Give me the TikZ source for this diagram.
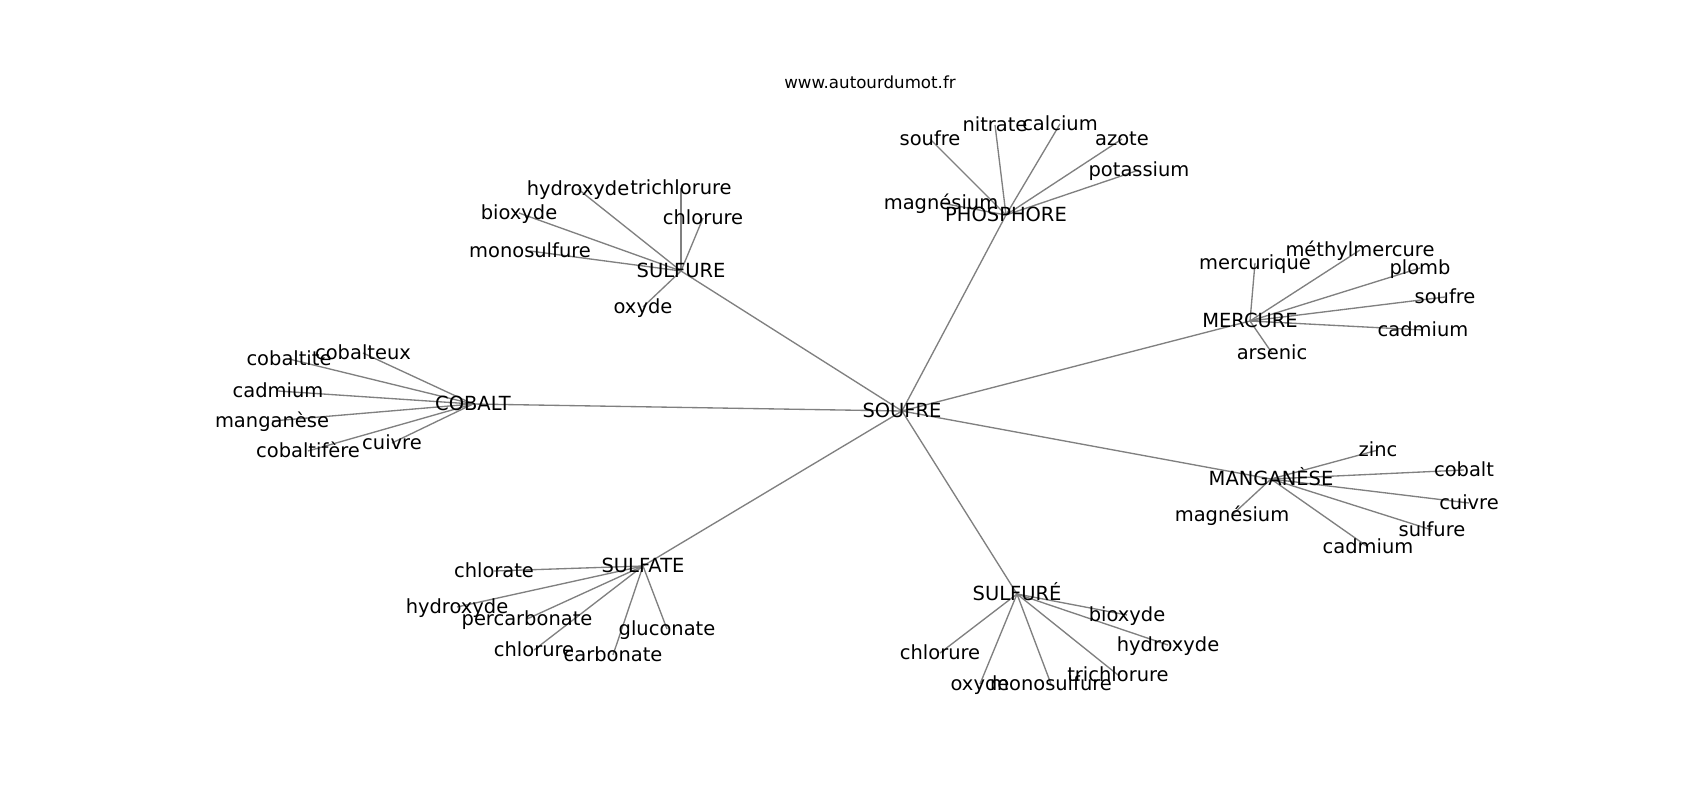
\documentclass[tikz,border=0pt]{standalone}
\usepackage{fontspec}
\setmainfont{DejaVu Sans}
\pgfdeclarelayer{bg}
\pgfsetlayers{bg,main}
\definecolor{edgegray}{RGB}{128,128,128}
\tikzset{
  lbl/.style={font=\fontsize{14.6}{17}\selectfont, inner sep=0pt, text height=0.95em, text depth=0.05em, anchor=center},
  ttl/.style={font=\fontsize{12.5}{15}\selectfont, inner sep=0pt, text height=0.95em, text depth=0.05em, anchor=center},
  edge/.style={draw=edgegray, line width=1pt}
}
\begin{document}
\begin{tikzpicture}[x=0.75pt, y=-0.75pt]
\useasboundingbox (0,0) rectangle (1700,800);
\node[ttl] (title) at (870,82) {www.autourdumot.fr};
% hubs
\node[lbl] (soufre) at (902,411) {SOUFRE};
\node[lbl] (phos) at (1006,215) {PHOSPHORE};
\node[lbl] (sulfure) at (681,271) {SULFURE};
\node[lbl] (merc) at (1250,321) {MERCURE};
\node[lbl] (cob) at (473,404) {COBALT};
\node[lbl] (mang) at (1271,479) {MANGANÈSE};
\node[lbl] (sulfate) at (643,566) {SULFATE};
\node[lbl] (sulfe) at (1017,594) {SULFURÉ};
% PHOSPHORE leaves
\node[lbl] (p1) at (930,139) {soufre};
\node[lbl] (p2) at (995,125) {nitrate};
\node[lbl] (p3) at (1060,124) {calcium};
\node[lbl] (p4) at (1122,139) {azote};
\node[lbl] (p5) at (1139,170) {potassium};
\node[lbl] (p6) at (941,203) {magnésium};
% SULFURE leaves
\node[lbl] (s1) at (578,189) {hydroxyde};
\node[lbl] (s2) at (681,188) {trichlorure};
\node[lbl] (s3) at (519,213) {bioxyde};
\node[lbl] (s4) at (703,218) {chlorure};
\node[lbl] (s5) at (530,251) {monosulfure};
\node[lbl] (s6) at (643,307) {oxyde};
% MERCURE leaves
\node[lbl] (m1) at (1255,263) {mercurique};
\node[lbl] (m2) at (1360,250) {méthylmercure};
\node[lbl] (m3) at (1420,268) {plomb};
\node[lbl] (m4) at (1445,297) {soufre};
\node[lbl] (m5) at (1423,330) {cadmium};
\node[lbl] (m6) at (1272,353) {arsenic};
% COBALT leaves
\node[lbl] (c1) at (363,353) {cobalteux};
\node[lbl] (c2) at (289,359) {cobaltite};
\node[lbl] (c3) at (278,391) {cadmium};
\node[lbl] (c4) at (272,421) {manganèse};
\node[lbl] (c5) at (308,451) {cobaltifère};
\node[lbl] (c6) at (392,443) {cuivre};
% MANGANESE leaves
\node[lbl] (g1) at (1378,450) {zinc};
\node[lbl] (g2) at (1464,470) {cobalt};
\node[lbl] (g3) at (1469,503) {cuivre};
\node[lbl] (g4) at (1432,530) {sulfure};
\node[lbl] (g5) at (1368,547) {cadmium};
\node[lbl] (g6) at (1232,515) {magnésium};
% SULFATE leaves
\node[lbl] (a1) at (494,571) {chlorate};
\node[lbl] (a2) at (457,607) {hydroxyde};
\node[lbl] (a3) at (527,619) {percarbonate};
\node[lbl] (a4) at (534,650) {chlorure};
\node[lbl] (a5) at (613,655) {carbonate};
\node[lbl] (a6) at (667,629) {gluconate};
% SULFURÉ leaves
\node[lbl] (e1) at (1127,615) {bioxyde};
\node[lbl] (e2) at (1168,645) {hydroxyde};
\node[lbl] (e3) at (1118,675) {trichlorure};
\node[lbl] (e4) at (1051,684) {monosulfure};
\node[lbl] (e5) at (980,684) {oxyde};
\node[lbl] (e6) at (940,653) {chlorure};
\begin{pgfonlayer}{bg}
\fill[white] (0,0) rectangle (1700,800);
\foreach \h in {phos,sulfure,merc,cob,mang,sulfate,sulfe}
  \draw[edge] (soufre.center) -- (\h.center);
\foreach \l in {p1,p2,p3,p4,p5,p6}
  \draw[edge] (phos.center) -- (\l.center);
\foreach \l in {s1,s2,s3,s4,s5,s6}
  \draw[edge] (sulfure.center) -- (\l.center);
\foreach \l in {m1,m2,m3,m4,m5,m6}
  \draw[edge] (merc.center) -- (\l.center);
\foreach \l in {c1,c2,c3,c4,c5,c6}
  \draw[edge] (cob.center) -- (\l.center);
\foreach \l in {g1,g2,g3,g4,g5,g6}
  \draw[edge] (mang.center) -- (\l.center);
\foreach \l in {a1,a2,a3,a4,a5,a6}
  \draw[edge] (sulfate.center) -- (\l.center);
\foreach \l in {e1,e2,e3,e4,e5,e6}
  \draw[edge] (sulfe.center) -- (\l.center);
\end{pgfonlayer}
\end{tikzpicture}
\end{document}
